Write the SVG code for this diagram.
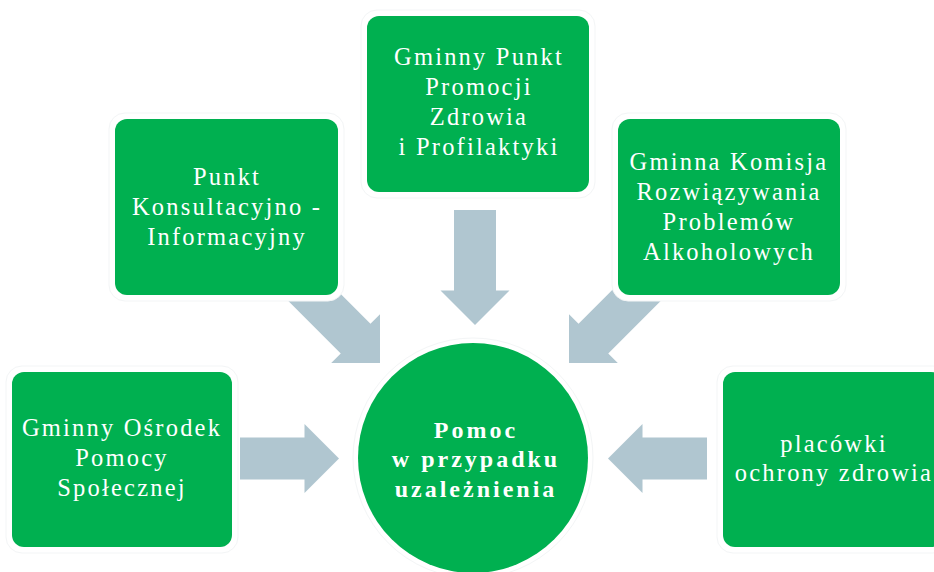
<svg xmlns="http://www.w3.org/2000/svg" width="934" height="572" viewBox="0 0 934 572">
<style>
.halo{fill:#ffffff;stroke:#f3f5f6;stroke-width:1}
.box{fill:#00B050}
.t{font-family:"Liberation Serif","Times New Roman",serif;font-size:24.5px;fill:#ffffff;text-anchor:middle;letter-spacing:2.2px}
.tb{font-family:"Liberation Serif","Times New Roman",serif;font-size:24px;font-weight:bold;fill:#ffffff;text-anchor:middle;letter-spacing:3px}
.arr{fill:#B0C6D0}
</style>
<defs>
<polygon id="arrow" points="0,0 -34.5,-34.5 -34.5,-21 -115,-21 -115,21 -34.5,21 -34.5,34.5"/>
<polygon id="arrowH" points="0,0 -34.5,-34.5 -34.5,-21 -99,-21 -99,21 -34.5,21 -34.5,34.5"/>
</defs>
<rect width="934" height="572" fill="#ffffff"/>
<g id="connectors" class="arr">
<use href="#arrowH" transform="translate(339,458.5)"/>
<use href="#arrowH" transform="translate(608,458.5) rotate(180)"/>
<use href="#arrow" transform="translate(475,325) rotate(90)"/>
<use href="#arrow" transform="translate(380,363) rotate(45)"/>
<use href="#arrow" transform="translate(569,363) rotate(135)"/>
</g>
<g id="node-top">
<rect class="halo" x="361" y="10" width="234" height="188" rx="16"/>
<rect class="box" x="367" y="16" width="222" height="176" rx="12"/>
<text class="t" x="479" y="65">Gminny Punkt</text>
<text class="t" x="479" y="95">Promocji</text>
<text class="t" x="479" y="125">Zdrowia</text>
<text class="t" x="479" y="155">i Profilaktyki</text>
</g>
<g id="node-upper-left">
<rect class="halo" x="109" y="113" width="235" height="188" rx="16"/>
<rect class="box" x="115" y="119" width="223" height="176" rx="12"/>
<text class="t" x="227" y="185">Punkt</text>
<text class="t" x="227" y="215">Konsultacyjno -</text>
<text class="t" x="227" y="245">Informacyjny</text>
</g>
<g id="node-upper-right">
<rect class="halo" x="612" y="113" width="234" height="188" rx="16"/>
<rect class="box" x="618" y="119" width="222" height="176" rx="12"/>
<text class="t" x="729" y="170">Gminna Komisja</text>
<text class="t" x="729" y="200">Rozwiązywania</text>
<text class="t" x="729" y="230">Problemów</text>
<text class="t" x="729" y="260">Alkoholowych</text>
</g>
<g id="node-bottom-left">
<rect class="halo" x="6" y="366" width="232" height="187" rx="16"/>
<rect class="box" x="12" y="372" width="220" height="175" rx="12"/>
<text class="t" x="122" y="436">Gminny Ośrodek</text>
<text class="t" x="122" y="466">Pomocy</text>
<text class="t" x="122" y="496">Społecznej</text>
</g>
<g id="node-bottom-right">
<rect class="halo" x="717" y="366" width="232" height="187" rx="16"/>
<rect class="box" x="723" y="372" width="220" height="175" rx="12"/>
<text class="t" x="834" y="452">placówki</text>
<text class="t" x="834" y="481">ochrony zdrowia</text>
</g>
<g id="node-center">
<circle cx="473" cy="458" r="120" fill="#ffffff" stroke="#f3f5f6" stroke-width="1"/>
<circle cx="473" cy="458" r="115" fill="#00B050"/>
<text class="tb" x="476" y="438">Pomoc</text>
<text class="tb" x="476" y="467">w przypadku</text>
<text class="tb" x="476" y="497">uzależnienia</text>
</g>
</svg>
